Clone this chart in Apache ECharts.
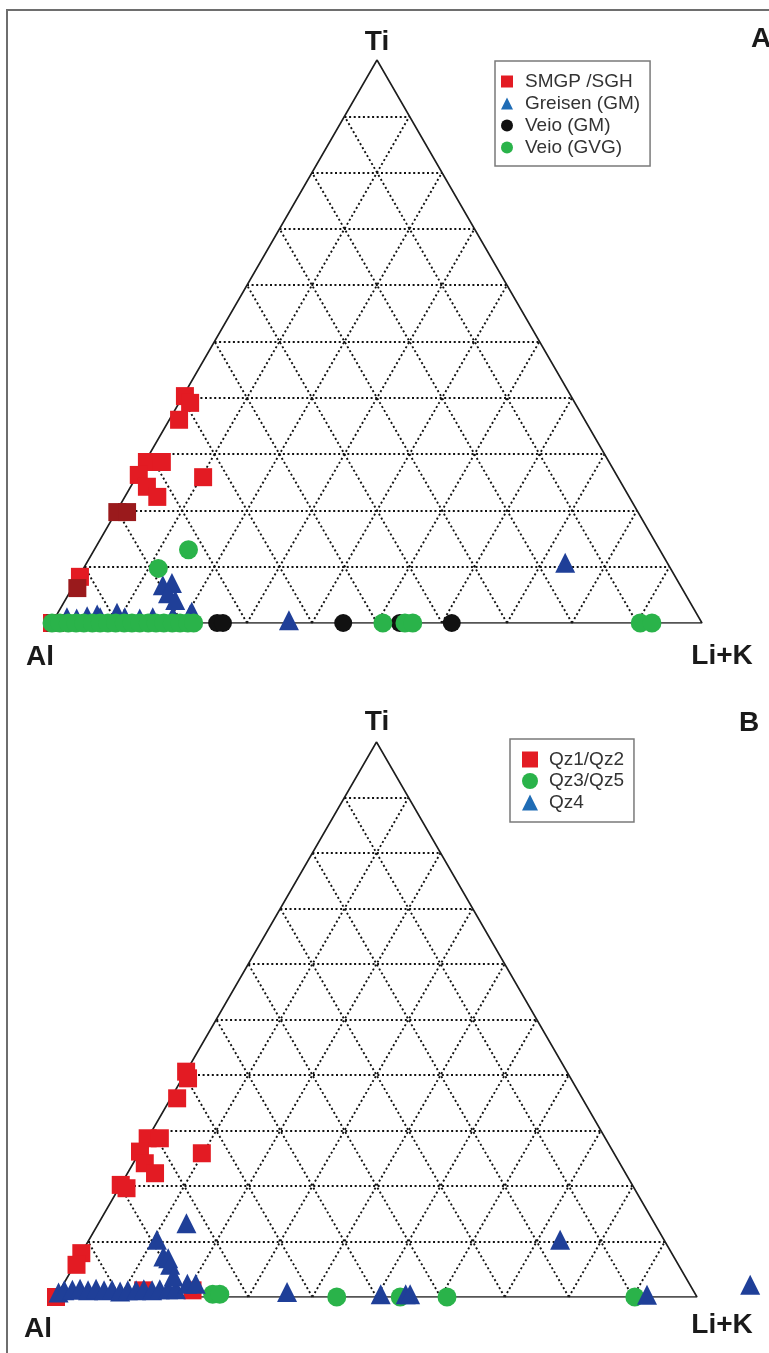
<!DOCTYPE html>
<html>
<head>
<meta charset="utf-8">
<script src="https://cdn.jsdelivr.net/npm/echarts@6/dist/echarts.min.js"></script>
<style>
  html, body { margin: 0; padding: 0; background: #ffffff; }
  #chart { width: 769px; height: 1353px; }
</style>
</head>
<body>
<div id="chart"></div>
<script>
// Compositions are stored as [Al, Li+K, Ti] in percent.

// ---- Panel A ----
const smgpSghA = [
  [59.4, 0.3, 40.3], [59.2, 1.7, 39.1], [62.4, 1.5, 36.1],
  [71.1, 0.3, 28.6], [68.8, 2.6, 28.6], [73.5, 0.2, 26.3],
  [73.3, 2.5, 24.2], [72.6, 5.0, 22.4], [63.8, 10.3, 25.9],
  [91.6, 0.2, 8.2], [100, 0, 0]
];
const smgpSghDarkA = [
  [80.1, 0.2, 19.7], [78.6, 1.7, 19.7], [93.0, 0.8, 6.2], [99.5, 0.5, 0]
];
const greisenGmA = [
  [97.2, 1.8, 1.0], [95.8, 3.4, 0.8], [94.0, 4.8, 1.2], [92.3, 6.2, 1.5],
  [92.1, 6.9, 1.0], [89.1, 9.1, 1.8], [88.3, 10.7, 1.0], [86.1, 13.1, 0.8],
  [84.0, 15.0, 1.0], [80.8, 18.0, 1.2], [78.0, 20.5, 1.5],
  [79.6, 13.7, 6.7], [78.0, 14.9, 7.1], [79.5, 15.2, 5.3], [79.0, 16.9, 4.1],
  [77.5, 20.5, 2.0], [63.3, 36.2, 0.5], [15.7, 73.6, 10.7]
];
const veioGmA = [
  [74.6, 25.4, 0], [73.7, 26.3, 0], [55.2, 44.8, 0], [46.5, 53.5, 0], [38.5, 61.5, 0]
];
const veioGvgA = [
  [100, 0, 0], [98.8, 1.2, 0], [97.5, 2.5, 0], [96.3, 3.7, 0], [95.1, 4.9, 0],
  [93.8, 6.2, 0], [92.6, 7.4, 0], [91.4, 8.6, 0], [90.2, 9.8, 0], [88.9, 11.1, 0],
  [87.7, 12.3, 0], [86.5, 13.5, 0], [85.2, 14.8, 0], [84.0, 16.0, 0], [82.8, 17.2, 0],
  [81.5, 18.5, 0], [80.3, 19.7, 0], [79.1, 20.9, 0], [78.2, 21.8, 0],
  [72.5, 14.5, 13.0], [78.8, 11.5, 9.7],
  [49.1, 50.9, 0], [45.7, 54.3, 0], [44.5, 55.5, 0], [9.5, 90.5, 0], [7.7, 92.3, 0]
];

// ---- Panel B ----
const qz1qz2B = [
  [59.4, 0, 40.6], [59.7, 0.9, 39.4], [63.2, 1.0, 35.8],
  [71.4, 0, 28.6], [69.5, 1.9, 28.6], [73.8, 0, 26.2],
  [74.1, 1.8, 24.1], [73.4, 4.3, 22.3], [64.3, 9.8, 25.9],
  [79.8, 0, 20.2], [79.2, 1.2, 19.6], [92.1, 0, 7.9], [93.9, 0.3, 5.8],
  [100, 0, 0], [85.8, 13.0, 1.2], [78.1, 20.7, 1.2]
];
const qz3qz5B = [
  [75.3, 24.2, 0.5], [74.2, 25.3, 0.5], [56.2, 43.8, 0], [46.3, 53.7, 0],
  [39.0, 61.0, 0], [9.7, 90.3, 0]
];
const qz4B = [
  [99.2, 0, 0.8], [98.1, 0.7, 1.2], [96.8, 1.9, 1.3], [95.5, 3.0, 1.5],
  [94.4, 4.4, 1.2], [93.0, 5.5, 1.5], [91.9, 6.9, 1.2], [90.6, 8.1, 1.3],
  [89.5, 9.5, 1.0], [88.2, 10.6, 1.2], [86.9, 11.9, 1.2], [85.6, 13.0, 1.4],
  [84.4, 14.4, 1.2], [83.1, 15.5, 1.4], [81.8, 16.8, 1.4], [80.6, 18.0, 1.4],
  [78.3, 19.3, 2.4], [77.0, 20.6, 2.4],
  [73.0, 13.7, 13.3], [79.1, 10.6, 10.3], [79.6, 13.1, 7.3], [79.0, 14.0, 7.0],
  [79.3, 14.9, 5.8], [79.8, 16.5, 3.7],
  [63.5, 35.6, 0.9], [49.1, 50.4, 0.5], [45.2, 54.3, 0.5], [44.5, 55.0, 0.5],
  [16.2, 73.5, 10.3], [7.6, 92.0, 0.4], [-9.4, 107.2, 2.2]
];

// Reference-line levels (percent) for the ternary grid
const gridSteps = [10, 20, 30, 40, 50, 60, 70, 80, 90];

const H3 = Math.sqrt(3) / 2;
// Ternary [Al, Li+K, Ti] -> plane: Al at (0,0), Li+K at (1,0), Ti at (0.5, H3)
function toXY(p) {
  const s = p[0] + p[1] + p[2];
  return [(p[1] + p[2] / 2) / s, (p[2] / s) * H3];
}

function gridSegments() {
  const segs = [];
  gridSteps.forEach(f => {
    segs.push({ coords: [toXY([100 - f, 0, f]), toXY([0, 100 - f, f])] });   // constant Ti
    segs.push({ coords: [toXY([f, 100 - f, 0]), toXY([f, 0, 100 - f])] });   // constant Al
    segs.push({ coords: [toXY([100 - f, f, 0]), toXY([0, f, 100 - f])] });   // constant Li+K
  });
  return segs;
}

const outline = [toXY([100, 0, 0]), toXY([0, 100, 0]), toXY([0, 0, 100]), toXY([100, 0, 0])];

const RED = '#e31b23', DARKRED = '#9a1a1c', BLUE = '#1f3f98', GREEN = '#2ab34a', BLACK = '#111111';

function frameSeries(idx) {
  return [
    {
      type: 'lines', coordinateSystem: 'cartesian2d', xAxisIndex: idx, yAxisIndex: idx,
      silent: true, animation: false, z: 1,
      lineStyle: { color: '#111111', width: 1.9, type: [2, 2.6], opacity: 1 },
      data: gridSegments()
    },
    {
      type: 'line', xAxisIndex: idx, yAxisIndex: idx, silent: true, animation: false, z: 2,
      symbol: 'none', lineStyle: { color: '#1e1e1e', width: 1.6 }, data: outline
    }
  ];
}

function pts(arr, color) {
  return arr.map(p => color ? { value: toXY(p), itemStyle: { color } } : { value: toXY(p) });
}

function scatter(name, idx, symbol, size, color, data) {
  return {
    name, type: 'scatter', xAxisIndex: idx, yAxisIndex: idx, clip: false,
    symbol, symbolSize: size, itemStyle: { color, opacity: 1 },
    animation: false, z: 3, data
  };
}

const labelFont = 'bold 28px "Liberation Sans", Arial, sans-serif';
function label(text, x, y, align) {
  return {
    type: 'text', x, y, silent: true,
    style: { text, font: labelFont, fill: '#1a1a1a', align: align || 'center', verticalAlign: 'middle' }
  };
}

const legendFont = '"Liberation Sans", Arial, sans-serif';

const option = {
  backgroundColor: '#ffffff',
  animation: false,
  grid: [
    { left: 52, top: 60, width: 650, height: 563 },
    { left: 56, top: 742, width: 641, height: 555 }
  ],
  xAxis: [0, 1].map(i => ({ type: 'value', gridIndex: i, min: 0, max: 1, show: false })),
  yAxis: [0, 1].map(i => ({ type: 'value', gridIndex: i, min: 0, max: H3, show: false })),
  legend: [
    {
      orient: 'vertical', left: 495, top: 61,
      padding: [11, 10, 9, 6], itemGap: 3, itemWidth: 12, itemHeight: 12,
      borderColor: '#7a7a7a', borderWidth: 1.5, backgroundColor: '#ffffff',
      selectedMode: false,
      textStyle: { fontFamily: legendFont, fontSize: 19, color: '#333', padding: [0, 0, 0, 7] },
      data: [
        { name: 'SMGP /SGH', icon: 'rect' },
        { name: 'Greisen (GM)', icon: 'triangle', itemStyle: { color: '#1f6cb5' } },
        { name: 'Veio (GM)', icon: 'circle' },
        { name: 'Veio (GVG)', icon: 'circle' }
      ]
    },
    {
      orient: 'vertical', left: 510, top: 739,
      padding: [11, 10, 10, 12], itemGap: 2.5, itemWidth: 16, itemHeight: 16,
      borderColor: '#7a7a7a', borderWidth: 1.5, backgroundColor: '#ffffff',
      selectedMode: false,
      textStyle: { fontFamily: legendFont, fontSize: 19, color: '#333', padding: [0, 0, 0, 6] },
      data: [
        { name: 'Qz1/Qz2', icon: 'rect' },
        { name: 'Qz3/Qz5', icon: 'circle' },
        { name: 'Qz4', icon: 'triangle', itemStyle: { color: '#1f6cb5' } }
      ]
    }
  ],
  graphic: [
    { type: 'rect', silent: true, shape: { x: 7, y: 10, width: 900, height: 1500 },
      style: { fill: 'none', stroke: '#6e6e6e', lineWidth: 2 } },
    label('Ti', 377, 42),
    label('A', 751, 39, 'left'),
    label('Al', 40, 657),
    label('Li+K', 722, 656),
    label('Ti', 377, 722),
    label('B', 749, 723),
    label('Al', 38, 1329),
    label('Li+K', 722, 1325)
  ],
  series: [
    ...frameSeries(0),
    scatter('SMGP /SGH', 0, 'rect', 18, RED, pts(smgpSghA).concat(pts(smgpSghDarkA, DARKRED))),
    scatter('Greisen (GM)', 0, 'triangle', 20, BLUE, pts(greisenGmA)),
    scatter('Veio (GM)', 0, 'circle', 18, BLACK, pts(veioGmA)),
    scatter('Veio (GVG)', 0, 'circle', 19, GREEN, pts(veioGvgA)),
    ...frameSeries(1),
    scatter('Qz1/Qz2', 1, 'rect', 18, RED, pts(qz1qz2B)),
    scatter('Qz3/Qz5', 1, 'circle', 19, GREEN, pts(qz3qz5B)),
    scatter('Qz4', 1, 'triangle', 20, BLUE, pts(qz4B))
  ]
};

const chart = echarts.init(document.getElementById('chart'), null, { renderer: 'canvas' });
chart.setOption(option);
</script>
</body>
</html>
